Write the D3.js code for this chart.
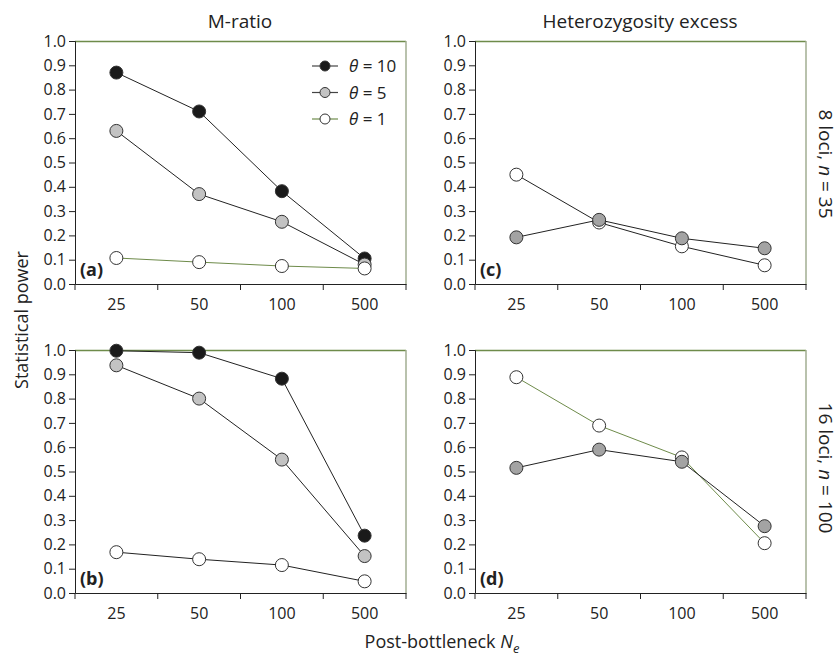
<!DOCTYPE html>
<html>
<head>
<meta charset="utf-8">
<script src="https://cdn.jsdelivr.net/npm/d3@7"></script>
<style>
  body { margin: 0; background: #fff; }
  text { font-family: "Open Sans", "Noto Sans", sans-serif; fill: #222; }
</style>
</head>
<body>
<div id="chart"></div>
<script>
// population sizes (x categories)
const ne = ["25", "50", "100", "500"];
const yTicks = [0, 0.1, 0.2, 0.3, 0.4, 0.5, 0.6, 0.7, 0.8, 0.9, 1.0];

// M-ratio, 8 loci, n = 35
const mRatio8_t10 = [0.87, 0.71, 0.382, 0.105];
const mRatio8_t5 = [0.63, 0.37, 0.256, 0.08];
const mRatio8_t1 = [0.107, 0.09, 0.074, 0.064];
// M-ratio, 16 loci, n = 100
const mRatio16_t10 = [0.997, 0.989, 0.882, 0.236];
const mRatio16_t5 = [0.937, 0.80, 0.549, 0.152];
const mRatio16_t1 = [0.168, 0.139, 0.115, 0.048];
// heterozygosity excess, 8 loci
const hetEx8_t5 = [0.192, 0.264, 0.188, 0.147];
const hetEx8_t1 = [0.45, 0.253, 0.155, 0.077];
// heterozygosity excess, 16 loci
const hetEx16_t5 = [0.515, 0.59, 0.54, 0.275];
const hetEx16_t1 = [0.888, 0.689, 0.558, 0.205];

const legendLabels = ["10", "5", "1"];

const width = 838, height = 658;
const pw = 331, ph = 243;
const green = "#6e8b4a";

const svg = d3.select("#chart")
  .append("svg")
  .attr("width", width)
  .attr("height", height);

const x = d3.scaleBand().domain(ne).range([0, pw]);
const y = d3.scaleLinear().domain([0, 1]).range([ph, 0]);

const panels = [
  { id: "(a)", left: 75, top: 41, series: [
      { v: mRatio8_t10, fill: "#1a1a1a", line: "#222" },
      { v: mRatio8_t5, fill: "#c3c3c3", line: "#222" },
      { v: mRatio8_t1, fill: "#fff", line: green }] },
  { id: "(b)", left: 75, top: 350, series: [
      { v: mRatio16_t10, fill: "#1a1a1a", line: "#222" },
      { v: mRatio16_t5, fill: "#c3c3c3", line: "#222" },
      { v: mRatio16_t1, fill: "#fff", line: "#222" }] },
  { id: "(c)", left: 475, top: 41, series: [
      { v: hetEx8_t1, fill: "#fff", line: "#222" },
      { v: hetEx8_t5, fill: "#a3a3a3", line: "#222" }] },
  { id: "(d)", left: 475, top: 350, series: [
      { v: hetEx16_t1, fill: "#fff", line: green },
      { v: hetEx16_t5, fill: "#a3a3a3", line: "#222" }] }
];

const line = d3.line()
  .x((d, i) => x(ne[i]) + x.bandwidth() / 2)
  .y(d => y(d));

panels.forEach(function(p) {
  const g = svg.append("g").attr("transform", "translate(" + p.left + "," + p.top + ")");

  // top and right frame
  g.append("line").attr("x1", 0).attr("x2", pw).attr("y1", 0.5).attr("y2", 0.5)
    .attr("stroke", green).attr("stroke-width", 1.3);
  g.append("line").attr("x1", pw).attr("x2", pw).attr("y1", 0).attr("y2", ph)
    .attr("stroke", "#a2ae92").attr("stroke-width", 1.5);

  const ya = g.append("g")
    .call(d3.axisLeft(y).tickValues(yTicks).tickFormat(d3.format(".1f")).tickSize(6).tickPadding(3));
  ya.selectAll("text").style("font-size", "16px").style("font-family", "Open Sans");
  ya.select(".domain").attr("stroke", "#222");
  ya.selectAll(".tick line").attr("stroke", "#222");

  const xa = g.append("g").attr("transform", "translate(0," + ph + ")")
    .call(d3.axisBottom(x).tickSize(0).tickPadding(15));
  xa.selectAll("text").style("font-size", "16px").style("font-family", "Open Sans");
  xa.select(".domain").attr("stroke", "#222");
  xa.selectAll(".bound")
    .data(d3.range(ne.length + 1))
    .enter().append("line")
    .attr("x1", d => d * x.step()).attr("x2", d => d * x.step())
    .attr("y1", 0).attr("y2", 6)
    .attr("stroke", "#222");

  p.series.forEach(function(s) {
    g.append("path").datum(s.v)
      .attr("d", line)
      .attr("fill", "none")
      .attr("stroke", s.line)
      .attr("stroke-width", 1);
    g.selectAll(null).data(s.v).enter().append("circle")
      .attr("cx", (d, i) => x(ne[i]) + x.bandwidth() / 2)
      .attr("cy", d => y(d))
      .attr("r", 6.5)
      .attr("fill", s.fill)
      .attr("stroke", "#333")
      .attr("stroke-width", 1);
  });

  g.append("text").attr("x", 5).attr("y", ph - 8)
    .style("font-size", "18px").style("font-weight", "bold")
    .text(p.id);
});

// legend in panel (a)
const legendFill = ["#1a1a1a", "#c3c3c3", "#fff"];
const legendLine = ["#444", "#444", green];
const lg = svg.append("g").attr("transform", "translate(312,66)");
legendLabels.forEach(function(lab, i) {
  const row = lg.append("g").attr("transform", "translate(0," + (i * 26.5) + ")");
  row.append("line").attr("x1", 0).attr("x2", 26).attr("y1", 0).attr("y2", 0)
    .attr("stroke", legendLine[i]).attr("stroke-width", 1.2);
  row.append("circle").attr("cx", 13).attr("cy", 0).attr("r", 5)
    .attr("fill", legendFill[i]).attr("stroke", "#333");
  const t = row.append("text").attr("x", 37).attr("y", 6).style("font-size", "17px");
  t.append("tspan").style("font-style", "italic").text("θ");
  t.append("tspan").text(" = " + lab);
});

// column titles
svg.append("text").attr("x", 240).attr("y", 28).attr("text-anchor", "middle")
  .style("font-size", "19px").text("M-ratio");
svg.append("text").attr("x", 640).attr("y", 28).attr("text-anchor", "middle")
  .style("font-size", "19px").text("Heterozygosity excess");

// axis titles
svg.append("text").attr("transform", "translate(28,320) rotate(-90)")
  .attr("text-anchor", "middle").style("font-size", "18px").text("Statistical power");

const xl = svg.append("text").attr("x", 442).attr("y", 648).attr("text-anchor", "middle")
  .style("font-size", "18px");
xl.append("tspan").text("Post-bottleneck ");
xl.append("tspan").style("font-style", "italic").text("N");
xl.append("tspan").style("font-style", "italic").style("font-size", "13px").attr("dy", 5).text("e");

// row labels
const r1 = svg.append("text").attr("transform", "translate(819,164) rotate(90)")
  .attr("text-anchor", "middle").style("font-size", "19px");
r1.append("tspan").text("8 loci, ");
r1.append("tspan").style("font-style", "italic").text("n");
r1.append("tspan").text(" = 35");

const r2 = svg.append("text").attr("transform", "translate(819,468) rotate(90)")
  .attr("text-anchor", "middle").style("font-size", "19px");
r2.append("tspan").text("16 loci, ");
r2.append("tspan").style("font-style", "italic").text("n");
r2.append("tspan").text(" = 100");
</script>
</body>
</html>
